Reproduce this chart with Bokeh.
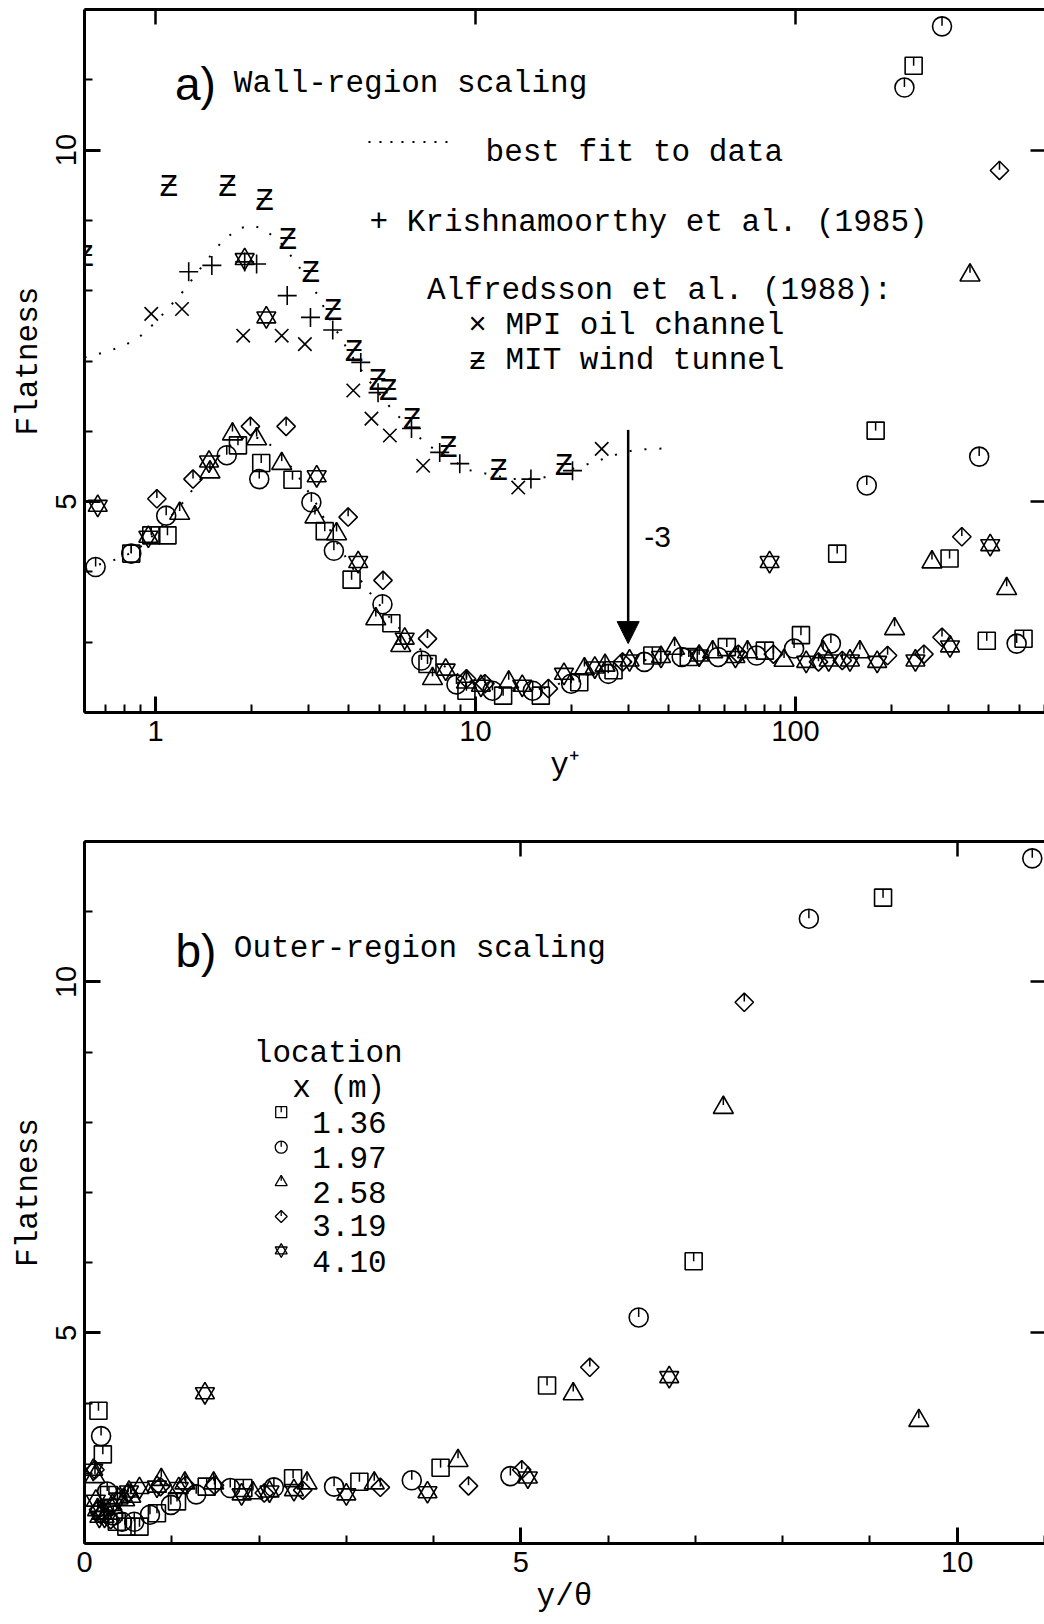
from bokeh.plotting import figure
from bokeh.models import (LogAxis, LinearAxis, FixedTicker, Label, Arrow, NormalHead,
                          Range1d, ColumnDataSource, BasicTickFormatter)
from bokeh.layouts import column
from bokeh.embed import file_html
from bokeh.resources import INLINE
from bokeh.core.properties import value

# ---------------- data: panel a (wall-region scaling, x = y+) ----------------
fit_x = [0.6, 0.7, 0.8, 0.9, 1.0, 1.2, 1.4, 1.6, 1.8, 2.0, 2.2, 2.5, 2.8, 3.2, 3.6,
         4.0, 4.5, 5.5, 7.0, 9.5, 13, 16, 22, 28, 32, 41]
fit_y = [7.05, 7.13, 7.22, 7.36, 7.55, 7.95, 8.35, 8.68, 8.88, 8.93, 8.87, 8.65, 8.35,
         7.95, 7.50, 7.15, 6.80, 6.30, 5.82, 5.45, 5.32, 5.33, 5.52, 5.68, 5.74, 5.76]
fit_shift = 3.0

kri_x = [1.27, 1.50, 1.90, 2.07, 2.58, 3.05, 3.58, 4.38, 4.96, 6.31, 7.73, 8.93, 14.9, 20.1]
kri_y = [8.27, 8.36, 8.41, 8.38, 7.93, 7.62, 7.44, 6.98, 6.55, 6.04, 5.70, 5.54, 5.32, 5.44]

mpi_x = [0.97, 1.21, 1.88, 2.48, 2.93, 4.15, 4.73, 5.40, 6.86, 13.6, 24.8]
mpi_y = [7.67, 7.74, 7.36, 7.36, 7.24, 6.58, 6.18, 5.94, 5.51, 5.20, 5.75]

mit_x = [0.60, 1.10, 1.68, 2.19, 2.59, 3.06, 3.59, 4.17, 4.95, 5.34, 6.33, 8.22, 11.8, 18.9]
mit_y = [8.47, 9.47, 9.47, 9.27, 8.71, 8.25, 7.70, 7.12, 6.71, 6.56, 6.16, 5.76, 5.43, 5.50]

sq_a_x = [0.84, 0.97, 1.09, 1.81, 2.14, 2.68, 3.38, 4.10, 5.46, 7.08, 9.37, 12.2, 16.0,
          21.1, 27.0, 35.7, 46.4, 61.0, 80.2, 104, 135, 178, 234, 303, 396, 516]
sq_a_y = [4.26, 4.52, 4.52, 5.80, 5.55, 5.31, 4.58, 3.89, 3.27, 2.69, 2.31, 2.24, 2.24,
          2.43, 2.60, 2.81, 2.79, 2.93, 2.88, 3.10, 4.26, 6.01, 11.20, 4.19, 3.02, 3.05]

ci_a_x = [0.65, 0.84, 1.08, 1.67, 2.11, 3.07, 3.61, 5.12, 6.78, 8.72, 11.3, 15.1, 19.9,
          26.0, 33.7, 44.1, 57.3, 75.5, 99.0, 129, 167, 219, 287, 375, 491]
ci_a_y = [4.07, 4.26, 4.80, 5.66, 5.32, 4.99, 4.30, 3.54, 2.74, 2.40, 2.31, 2.31, 2.41,
          2.55, 2.72, 2.79, 2.79, 2.81, 2.91, 2.98, 5.23, 10.89, 11.76, 5.64, 2.98]

tr_a_x = [1.19, 1.48, 1.74, 2.07, 2.48, 3.15, 3.68, 4.88, 5.84, 7.34, 9.37, 12.7, 21.9,
          25.4, 41.9, 55.1, 70.8, 92.1, 122, 159, 204, 267, 351, 457]
tr_a_y = [4.83, 5.42, 5.96, 5.89, 5.54, 4.78, 4.54, 3.33, 2.95, 2.48, 2.43, 2.43, 2.62,
          2.67, 2.91, 2.86, 2.86, 2.74, 2.86, 2.86, 3.19, 4.14, 8.22, 3.76]

di_a_x = [1.01, 1.31, 1.98, 2.56, 4.00, 5.14, 7.08, 9.37, 10.7, 16.9, 28.8, 50.0, 66.3,
          85.3, 118, 140, 194, 252, 287, 331, 434]
di_a_y = [5.04, 5.32, 6.07, 6.07, 4.78, 3.88, 3.05, 2.48, 2.41, 2.34, 2.72, 2.81, 2.83,
          2.83, 2.72, 2.74, 2.81, 2.83, 3.07, 4.50, 9.71]

hx_a_x = [0.66, 0.95, 1.47, 1.90, 2.22, 3.19, 4.30, 6.01, 8.07, 10.4, 14.0, 18.9, 23.6,
          30.3, 38.0, 50.0, 64.9, 83.0, 108, 127, 148, 180, 237, 304, 406]
hx_a_y = [4.94, 4.50, 5.57, 8.45, 7.62, 5.36, 4.14, 3.05, 2.61, 2.38, 2.38, 2.55, 2.64,
          2.74, 2.79, 2.81, 2.79, 4.14, 2.72, 2.74, 2.74, 2.72, 2.74, 2.94, 4.38]

# ---------------- data: panel b (outer-region scaling, x = y/theta) ----------------
sq_b_x = [0.16, 0.21, 0.28, 0.37, 0.48, 0.63, 0.83, 1.06, 1.40, 1.82, 2.39, 3.15, 4.08,
          5.30, 6.98, 9.15]
sq_b_y = [3.89, 3.27, 2.69, 2.31, 2.24, 2.24, 2.43, 2.60, 2.81, 2.79, 2.93, 2.88, 3.08,
          4.25, 6.02, 11.20]

ci_b_x = [0.19, 0.26, 0.33, 0.43, 0.57, 0.75, 0.99, 1.28, 1.67, 2.17, 2.86, 3.75, 4.88,
          6.35, 8.30, 10.86]
ci_b_y = [3.53, 2.74, 2.40, 2.31, 2.31, 2.41, 2.55, 2.70, 2.79, 2.80, 2.81, 2.90, 2.96,
          5.22, 10.90, 11.76]

tr_b_x = [0.12, 0.15, 0.20, 0.27, 0.46, 0.53, 0.88, 1.15, 1.48, 1.93, 2.55, 3.32, 4.28,
          5.60, 7.32, 9.56]
tr_b_y = [2.95, 2.48, 2.43, 2.43, 2.62, 2.67, 2.91, 2.86, 2.86, 2.72, 2.86, 2.86, 3.18,
          4.13, 8.21, 3.75]

di_b_x = [0.12, 0.16, 0.19, 0.30, 0.50, 0.87, 1.16, 1.49, 2.06, 2.50, 3.39, 4.40, 5.01,
          5.79, 7.56]
di_b_y = [3.05, 2.48, 2.41, 2.34, 2.72, 2.81, 2.83, 2.83, 2.72, 2.76, 2.80, 2.82, 3.05,
          4.51, 9.71]

hx_b_x = [0.10, 0.13, 0.17, 0.23, 0.32, 0.39, 0.51, 0.63, 0.83, 1.08, 1.38, 1.80, 2.12,
          2.40, 3.00, 3.93, 5.08, 6.70]
hx_b_y = [3.05, 2.61, 2.38, 2.38, 2.55, 2.64, 2.74, 2.79, 2.81, 2.79, 4.14, 2.70, 2.74,
          2.76, 2.70, 2.73, 2.94, 4.37]

locations = ["1.36", "1.97", "2.58", "3.19", "4.10"]

# ---------------- styling ----------------
MONO = "Liberation Mono"
TICKF = "Liberation Sans"
TXT = "31px"
Y0, Y1 = 2, 12
PX_PER_UNIT = 70.3   # vertical pixels per flatness unit (frame 703 px / 10 units)


def style_axes(p, xticks, xminor, xtop, ylabel, xlabel, log=False):
    p.outline_line_color = None
    p.xgrid.visible = False
    p.ygrid.visible = False
    p.background_fill_color = "white"
    p.border_fill_color = "white"
    xa = p.xaxis[0]
    xa.ticker = FixedTicker(ticks=xticks, minor_ticks=xminor)
    xa.formatter = BasicTickFormatter()
    ya = p.yaxis[0]
    ya.ticker = FixedTicker(ticks=[5, 10], minor_ticks=list(range(2, 13)))
    for ax in (xa, ya):
        ax.axis_line_width = 3
        ax.major_tick_in = 16
        ax.major_tick_out = 0
        ax.minor_tick_in = 8
        ax.minor_tick_out = 0
        ax.major_tick_line_width = 3
        ax.minor_tick_line_width = 2
        ax.major_label_text_font = TICKF
        ax.major_label_text_font_size = "29px"
        ax.major_label_text_color = "black"
        ax.axis_label_text_font = MONO
        ax.axis_label_text_font_size = TXT
        ax.axis_label_text_font_style = "normal"
        ax.axis_label_text_color = "black"
    xa.axis_label = xlabel
    xa.major_label_standoff = 8
    xa.axis_label_standoff = 4
    ya.axis_label = ylabel
    ya.major_label_orientation = "vertical"
    ya.major_label_standoff = 8
    ya.axis_label_standoff = 8

    AxisCls = LogAxis if log else LinearAxis
    top = AxisCls(ticker=FixedTicker(ticks=xtop, minor_ticks=[]),
                  major_label_overrides={t: "" for t in xtop},
                  major_label_text_font_size="0px", major_label_standoff=0,
                  major_tick_in=15, major_tick_out=0, minor_tick_in=0, minor_tick_out=0,
                  axis_line_width=3, major_tick_line_width=2.5)
    p.add_layout(top, "above")
    right = LinearAxis(ticker=FixedTicker(ticks=[5, 10], minor_ticks=[]),
                       major_label_overrides={5: "", 10: ""},
                       major_label_text_font_size="0px", major_label_standoff=0,
                       major_tick_in=14, major_tick_out=0, minor_tick_in=0, minor_tick_out=0,
                       axis_line_color=None, major_tick_line_width=2.5)
    p.add_layout(right, "right")


def ticks(p, xs, ys, top_px, len_px, lw=1.5):
    y_top = [y + top_px / PX_PER_UNIT for y in ys]
    y_bot = [y + (top_px - len_px) / PX_PER_UNIT for y in ys]
    p.segment(x0=xs, y0=y_top, x1=xs, y1=y_bot, line_color="black", line_width=lw)


def stations(p, data, scale=1.0):
    (sx, sy), (cx, cy), (tx, ty), (dx, dy), (hx, hy) = data
    kw = dict(fill_color=None, line_color="black", line_width=1.6)
    s = scale
    p.scatter(sx, sy, marker="square", size=17 * s, **kw)
    ticks(p, sx, sy, 8.5 * s, 8.5 * s)
    p.scatter(cx, cy, marker="circle", size=19 * s, **kw)
    ticks(p, cx, cy, 9.5 * s, 9 * s)
    p.scatter(tx, ty, marker="triangle", size=20 * s, **kw)
    ticks(p, tx, ty, 11.5 * s, 9 * s)
    p.scatter(dx, dy, marker="square", angle=0.785398, size=13 * s, **kw)
    ticks(p, dx, dy, 9.2 * s, 8.5 * s)
    p.scatter(hx, hy, marker="triangle", size=19 * s, **kw)
    p.scatter(hx, hy, marker="inverted_triangle", size=19 * s, **kw)


def label(p, x, y, text, font=MONO, size=TXT, align="left", baseline="alphabetic"):
    p.add_layout(Label(x=x, y=y, text=text, text_font=font, text_font_size=size,
                       text_align=align, text_baseline=baseline, text_color="black"))


# ---------------- panel a ----------------
p1 = figure(width=1044, height=800, x_axis_type="log",
            x_range=Range1d(0.6, 600), y_range=Range1d(Y0, Y1),
            output_backend="svg", toolbar_location=None,
            min_border_left=84, min_border_right=0, min_border_top=9, min_border_bottom=88)
style_axes(p1, [1, 10, 100],
           [0.6, 0.7, 0.8, 0.9] + [2, 3, 4, 5, 6, 7, 8, 9] + [20, 30, 40, 50, 60, 70, 80, 90]
           + [200, 300, 400, 500, 600],
           [1, 10, 100], "Flatness", "y\u207a", log=True)

p1.line(fit_x, fit_y, line_color="black", line_width=2, line_dash="2 13")
p1.line(fit_x, [v - fit_shift for v in fit_y], line_color="black", line_width=2, line_dash="2 13")

p1.scatter(kri_x, kri_y, marker="cross", size=19, line_color="black", line_width=1.6)
p1.scatter(mpi_x, mpi_y, marker="x", size=19, line_color="black", line_width=1.6)
mit_src = ColumnDataSource(dict(x=mit_x, y=mit_y, t=["\u01b5"] * len(mit_x)))
p1.text("x", "y", text="t", source=mit_src, text_font=value(MONO),
        text_font_size="31px", text_align="center", text_baseline="middle", text_color="black")

stations(p1, [(sq_a_x, sq_a_y), (ci_a_x, ci_a_y), (tr_a_x, tr_a_y),
              (di_a_x, di_a_y), (hx_a_x, hx_a_y)])

p1.add_layout(Arrow(end=NormalHead(size=22, fill_color="black", line_color="black"),
                    x_start=30, y_start=6.02, x_end=30, y_end=2.98,
                    line_color="black", line_width=2.5))
label(p1, 33.7, 4.50, "-3", font=TICKF, size="30px")

label(p1, 1.15, 10.94, "a)", font="Liberation Sans", size="46px")
label(p1, 1.757, 10.95, "Wall-region scaling")
p1.line([4.63, 8.72], [10.114, 10.114], line_color="black", line_width=2, line_dash="2 9")
label(p1, 10.75, 9.97, "best fit to data")
label(p1, 4.665, 8.977, "+ Krishnamoorthy et al. (1985)")
label(p1, 7.06, 8.006, "Alfredsson et al. (1988):")
label(p1, 9.49, 7.508, "\u00d7 MPI oil channel")
label(p1, 9.49, 7.011, "\u01b6 MIT wind tunnel")

# ---------------- panel b ----------------
p2 = figure(width=1044, height=822, x_range=Range1d(0, 11), y_range=Range1d(Y0, Y1),
            output_backend="svg", toolbar_location=None,
            min_border_left=84, min_border_right=0, min_border_top=41, min_border_bottom=79)
style_axes(p2, [0, 5, 10], list(range(0, 12)), [0, 5, 10], "Flatness", "y/\u03b8")

stations(p2, [(sq_b_x, sq_b_y), (ci_b_x, ci_b_y), (tr_b_x, tr_b_y),
              (di_b_x, di_b_y), (hx_b_x, hx_b_y)])

label(p2, 1.043, 10.447, "b)", font="Liberation Sans", size="46px")
label(p2, 1.711, 10.47, "Outer-region scaling")
label(p2, 1.94, 8.98, "location")
label(p2, 2.38, 8.48, "x (m)")

# legend keys (small station symbols) at fixed legend positions
LEG_X = 2.254
LEG_KEY_Y = [8.144, 7.645, 7.147, 6.658, 6.174]
LEG_TXT_X = 2.61
LEG_TXT_Y = [8.001, 7.503, 7.004, 6.530, 6.021]
kw = dict(fill_color=None, line_color="black", line_width=1.3)
p2.scatter([LEG_X], [LEG_KEY_Y[0]], marker="square", size=11, **kw)
ticks(p2, [LEG_X], [LEG_KEY_Y[0]], 5.5, 5.5, lw=1.3)
p2.scatter([LEG_X], [LEG_KEY_Y[1]], marker="circle", size=12, **kw)
ticks(p2, [LEG_X], [LEG_KEY_Y[1]], 6, 5.5, lw=1.3)
p2.scatter([LEG_X], [LEG_KEY_Y[2]], marker="triangle", size=12, **kw)
ticks(p2, [LEG_X], [LEG_KEY_Y[2]], 7, 5.5, lw=1.3)
p2.scatter([LEG_X], [LEG_KEY_Y[3]], marker="square", angle=0.785398, size=8.5, **kw)
ticks(p2, [LEG_X], [LEG_KEY_Y[3]], 6, 5.5, lw=1.3)
p2.scatter([LEG_X], [LEG_KEY_Y[4]], marker="triangle", size=12, **kw)
p2.scatter([LEG_X], [LEG_KEY_Y[4]], marker="inverted_triangle", size=12, **kw)
for t, yy in zip(locations, LEG_TXT_Y):
    label(p2, LEG_TXT_X, yy, t)

layout = column(p1, p2, spacing=0)
open("out.html", "w").write(file_html(layout, INLINE))
